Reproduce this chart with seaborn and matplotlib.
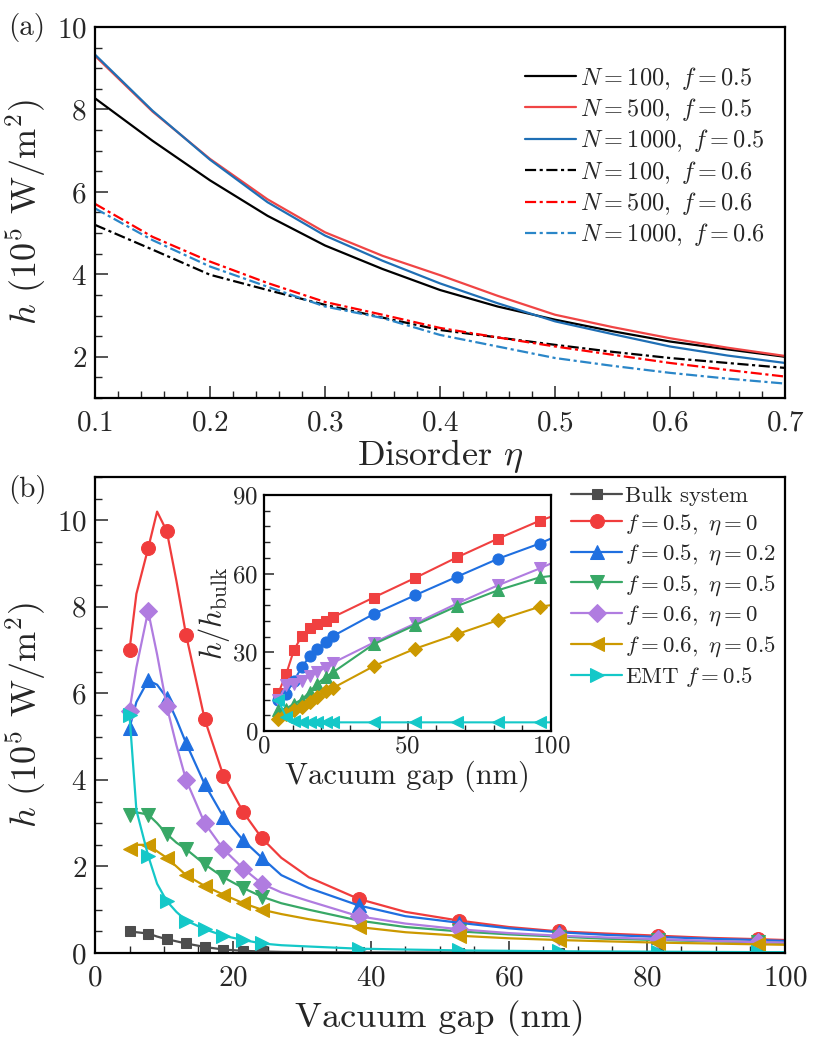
import numpy as np
import matplotlib
matplotlib.use("Agg")
import matplotlib.pyplot as plt
import seaborn as sns
from matplotlib.ticker import MultipleLocator

sns.set_style("ticks")
plt.rcParams.update({
    "font.family": "serif",
    "font.serif": ["cmr10"],
    "mathtext.fontset": "cm",
    "axes.unicode_minus": False,
    "axes.formatter.use_mathtext": True,
    "axes.linewidth": 1.5,
    "xtick.direction": "in",
    "ytick.direction": "in",
})

# ---------------- panel (a) data ----------------
eta = [0.10, 0.15, 0.20, 0.25, 0.30, 0.35, 0.40, 0.45, 0.50, 0.55, 0.60, 0.65, 0.70]
h_N100_f05 = [8.27, 7.24, 6.28, 5.42, 4.70, 4.13, 3.62, 3.22, 2.90, 2.62, 2.37, 2.18, 2.00]
h_N500_f05 = [9.30, 7.95, 6.80, 5.82, 5.02, 4.45, 3.98, 3.48, 3.02, 2.72, 2.45, 2.22, 2.02]
h_N1000_f05 = [9.33, 7.97, 6.78, 5.75, 4.94, 4.33, 3.78, 3.30, 2.86, 2.55, 2.25, 2.03, 1.85]
h_N100_f06 = [5.20, 4.60, 3.99, 3.62, 3.26, 2.95, 2.65, 2.47, 2.29, 2.12, 1.97, 1.85, 1.73]
h_N500_f06 = [5.71, 4.91, 4.31, 3.79, 3.33, 3.02, 2.70, 2.47, 2.25, 2.05, 1.85, 1.68, 1.52]
h_N1000_f06 = [5.60, 4.83, 4.19, 3.70, 3.22, 2.94, 2.53, 2.25, 1.97, 1.78, 1.61, 1.47, 1.35]
labels_a = [r"$N=100,\ f=0.5$", r"$N=500,\ f=0.5$", r"$N=1000,\ f=0.5$",
            r"$N=100,\ f=0.6$", r"$N=500,\ f=0.6$", r"$N=1000,\ f=0.6$"]

# ---------------- panel (b) data ----------------
gap = [5, 6, 7.7, 9, 10.4, 11.8, 13.2, 15.9, 18.6, 21.5, 24.2, 27, 31,
       38.2, 45, 52.7, 60, 67.2, 74, 81.6, 89, 96.1, 100]
marker_idx = [0, 2, 4, 6, 7, 8, 9, 10, 13, 15, 17, 19, 21]
h_bulk = [0.50, 0.48, 0.45, 0.38, 0.32, 0.27, 0.22, 0.14, 0.08, 0.05, 0.035, 0.025, 0.02,
          0.015, 0.012, 0.01, 0.008, 0.007, 0.006, 0.005, 0.005, 0.004, 0.004]
h_f05_e0 = [7.0, 8.3, 9.35, 10.2, 9.75, 8.6, 7.35, 5.4, 4.1, 3.25, 2.65, 2.2, 1.75,
            1.25, 0.95, 0.75, 0.6, 0.5, 0.45, 0.4, 0.35, 0.32, 0.3]
h_f05_e02 = [5.2, 5.8, 6.3, 6.2, 5.9, 5.4, 4.85, 3.9, 3.15, 2.6, 2.2, 1.8, 1.5,
             1.1, 0.85, 0.7, 0.57, 0.48, 0.42, 0.37, 0.33, 0.3, 0.28]
h_f05_e05 = [3.2, 3.25, 3.2, 3.0, 2.75, 2.55, 2.4, 2.05, 1.75, 1.5, 1.3, 1.15, 1.0,
             0.75, 0.6, 0.5, 0.43, 0.38, 0.33, 0.3, 0.27, 0.25, 0.23]
h_f06_e0 = [5.6, 6.6, 7.9, 6.9, 5.7, 4.8, 4.0, 3.0, 2.4, 1.95, 1.6, 1.4, 1.2,
            0.85, 0.68, 0.55, 0.46, 0.4, 0.36, 0.32, 0.28, 0.25, 0.24]
h_f06_e05 = [2.4, 2.5, 2.5, 2.35, 2.2, 2.0, 1.8, 1.55, 1.35, 1.15, 1.0, 0.9, 0.78,
             0.6, 0.48, 0.4, 0.34, 0.3, 0.27, 0.24, 0.22, 0.2, 0.19]
h_emt = [5.5, 3.3, 2.25, 1.6, 1.2, 0.95, 0.75, 0.55, 0.4, 0.3, 0.22, 0.18, 0.15,
         0.1, 0.08, 0.06, 0.05, 0.04, 0.035, 0.03, 0.025, 0.02, 0.02]
labels_b = ["Bulk system", r"$f=0.5,\ \eta=0$", r"$f=0.5,\ \eta=0.2$", r"$f=0.5,\ \eta=0.5$",
            r"$f=0.6,\ \eta=0$", r"$f=0.6,\ \eta=0.5$", r"EMT $f=0.5$"]

# ---------------- inset data (h / h_bulk) ----------------
gap_in = [5, 7.7, 10.4, 13.2, 15.9, 18.6, 21.5, 24.2, 38.2, 52.7, 67.2, 81.6, 96.1, 100]
r_f05_e0 = [14.5, 21.6, 30.8, 36.3, 39.1, 40.7, 42.1, 43.5, 50.9, 58.4, 66.2, 73.4, 80.2, 81.7]
r_f05_e02 = [11.7, 14.3, 19.1, 24.4, 28.5, 31.4, 34.0, 36.3, 44.6, 51.8, 58.8, 65.7, 71.5, 73.4]
r_f06_e0 = [11.7, 17.4, 18.1, 19.1, 20.9, 22.5, 24.2, 26.1, 33.7, 41.0, 48.6, 55.6, 62.0, 63.9]
r_f05_e05 = [7.9, 8.5, 10.4, 12.0, 14.9, 18.1, 20.6, 22.5, 33.1, 40.4, 47.6, 53.7, 58.6, 59.1]
r_f06_e05 = [4.7, 6.6, 7.9, 9.2, 11.1, 13.0, 15.3, 16.5, 24.7, 31.4, 36.9, 42.3, 47.4, 48.0]
r_emt = [11.7, 5.3, 3.8, 3.4, 3.3, 3.3, 3.3, 3.3, 3.3, 3.3, 3.3, 3.3, 3.3, 3.3]

# ---------------- figure ----------------
fig = plt.figure(figsize=(8.18, 10.56), dpi=100)
W, H = 818, 1056
def frac(l, t, r, b):
    return [l / W, 1 - b / H, (r - l) / W, (b - t) / H]

axa = fig.add_axes(frac(95, 27, 785, 398))
axb = fig.add_axes(frac(95, 477, 785, 953))
axi = fig.add_axes(frac(264, 495, 551, 731))

c_red_s = "#f04545"
c_red_d = "#ff0000"
c_blue = "#1f6fb5"
dashdot = (0, (5, 1.6, 1.4, 1.6))

series_a = [(h_N100_f05, "black", "-"), (h_N500_f05, c_red_s, "-"), (h_N1000_f05, c_blue, "-"),
            (h_N100_f06, "black", dashdot), (h_N500_f06, c_red_d, dashdot), (h_N1000_f06, "#2a86c8", dashdot)]
for (vals, col, ls), lab in zip(series_a, labels_a):
    sns.lineplot(x=eta, y=vals, ax=axa, color=col, linestyle=ls, linewidth=1.6, label=lab)

axa.set_xlim(0.1, 0.7)
axa.set_ylim(1, 10)
axa.xaxis.set_major_locator(MultipleLocator(0.1))
axa.xaxis.set_minor_locator(MultipleLocator(0.02))
axa.yaxis.set_major_locator(MultipleLocator(2))
axa.yaxis.set_minor_locator(MultipleLocator(0.5))
axa.set_xlabel(r"Disorder $\eta$", fontsize=26, labelpad=0)
axa.set_ylabel(r"$h$ (10$^5$ W/m$^2$)", fontsize=26, labelpad=6)
axa.legend(loc="upper right", frameon=False, fontsize=17.5, handlelength=2.1,
           handletextpad=0.15, labelspacing=0.18, borderaxespad=0.0, bbox_to_anchor=(0.985, 0.925))

# panel (b)
cols_b = ["#4d4d4d", "#f03c3c", "#1f6fe0", "#38a866", "#b07ce0", "#cc9900", "#14c8c8"]
marks_b = ["s", "o", "^", "v", "D", "<", ">"]
msize_b = [7.5, 10, 10.5, 10.5, 9, 10.5, 10.5]
vals_b = [h_bulk, h_f05_e0, h_f05_e02, h_f05_e05, h_f06_e0, h_f06_e05, h_emt]
for vals, col, mk, ms, lab in zip(vals_b, cols_b, marks_b, msize_b, labels_b):
    sns.lineplot(x=gap, y=vals, ax=axb, color=col, linewidth=1.6, marker=mk, markersize=ms,
                 markeredgecolor=col, markevery=marker_idx, label=lab)

axb.set_xlim(0, 100)
axb.set_ylim(0, 11)
axb.xaxis.set_major_locator(MultipleLocator(20))
axb.xaxis.set_minor_locator(MultipleLocator(5))
axb.yaxis.set_major_locator(MultipleLocator(2))
axb.yaxis.set_minor_locator(MultipleLocator(0.5))
axb.set_xlabel("Vacuum gap (nm)", fontsize=26, labelpad=6)
axb.set_ylabel(r"$h$ (10$^5$ W/m$^2$)", fontsize=26, labelpad=6)
axb.legend(loc="upper right", frameon=False, fontsize=16.5, handlelength=2.2,
           handletextpad=0.15, labelspacing=0.26, borderaxespad=0.0, bbox_to_anchor=(1.0, 1.0))

# inset
cols_i = ["#f04040", "#1f6fe0", "#b07ce0", "#38a866", "#cc9900", "#14c8c8"]
marks_i = ["s", "o", "v", "^", "D", "<"]
msize_i = [6.5, 8, 9, 9, 7.5, 9]
vals_i = [r_f05_e0, r_f05_e02, r_f06_e0, r_f05_e05, r_f06_e05, r_emt]
for vals, col, mk, ms in zip(vals_i, cols_i, marks_i, msize_i):
    sns.lineplot(x=gap_in, y=vals, ax=axi, color=col, linewidth=1.5, marker=mk, markersize=ms,
                 markeredgecolor=col, markevery=list(range(13)))

axi.set_xlim(0, 100)
axi.set_ylim(0, 90)
axi.xaxis.set_major_locator(MultipleLocator(50))
axi.xaxis.set_minor_locator(MultipleLocator(10))
axi.yaxis.set_major_locator(MultipleLocator(30))
axi.yaxis.set_minor_locator(MultipleLocator(6))
axi.set_xlabel("Vacuum gap (nm)", fontsize=22, labelpad=2)
axi.set_ylabel(r"$h/h_{\rm bulk}$", fontsize=22, labelpad=0)
axi.tick_params(axis="both", which="major", labelsize=18, length=7, width=1.1)
axi.tick_params(axis="x", which="major", pad=3)
axi.tick_params(axis="y", which="major", pad=4)
axi.tick_params(axis="both", which="minor", length=4, width=1.0)

for ax in (axa, axb):
    ax.tick_params(axis="both", which="major", labelsize=21, length=9, width=1.1)
    ax.tick_params(axis="x", which="major", pad=9)
    ax.tick_params(axis="y", which="major", pad=6)
    ax.tick_params(axis="both", which="minor", length=5, width=1.0)
for ax in (axa, axb, axi):
    for s in ax.spines.values():
        s.set_visible(True)
        s.set_linewidth(1.6)
        s.set_color("black")
    ax.tick_params(top=False, right=False, which="both")

fig.text(8 / W, 1 - 28 / H, "(a)", fontsize=21, va="center", ha="left")
fig.text(8 / W, 1 - 490 / H, "(b)", fontsize=21, va="center", ha="left")

fig.savefig("out.png", dpi=100)
